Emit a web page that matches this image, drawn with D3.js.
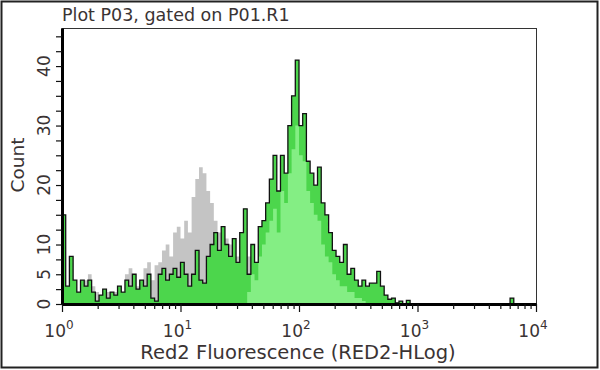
<!DOCTYPE html>
<html>
<head>
<meta charset="utf-8">
<script src="https://cdn.jsdelivr.net/npm/d3@7"></script>
<style>
  body { margin: 0; background: #fff; }
  text { font-family: "DejaVu Sans", Verdana, sans-serif; fill: #3a3333; }
</style>
</head>
<body>
<svg width="600" height="370"></svg>
<script>
// histogram channels, 32 per decade over 10^0 .. 10^4
var channels = 128, perDecade = 32;

// sample (gated) counts, drawn green with black outline
var sampleCounts = [
  15, 3, 8, 4, 2, 4, 3, 4, 2, 0.5,
  1.5, 2.5, 1, 2, 1.5, 3, 2, 4, 3, 5,
  2.5, 4, 3, 5, 1, 0.5, 5, 6, 4, 5,
  6, 4.5, 7, 5, 3, 5, 9, 4, 3.5, 8,
  10, 12, 9, 13, 10, 8, 11, 7, 12, 16,
  5, 10, 7, 13, 14, 17, 21, 25, 19, 25,
  22, 30, 35, 41, 30, 32, 24, 22, 20, 23,
  17, 15, 12, 9, 8, 7, 10, 5, 6, 4,
  3, 4, 3, 3.5, 3.5, 5.5, 3, 1.5, 0.8, 1,
  0.2, 0.5, 0, 0.6, 0, 0, 0, 0, 0, 0,
  0, 0, 0, 0, 0, 0, 0, 0, 0, 0,
  0, 0, 0, 0, 0, 0, 0, 0, 0, 0,
  0, 1, 0, 0, 0, 0, 0, 0
];

// control counts, drawn gray behind the sample
var controlCounts = [
  3, 2, 4, 3, 2, 3, 4, 5, 3, 2,
  1, 2, 2, 1.5, 2, 3, 2, 5, 6, 4,
  3, 4, 6, 7, 4, 6.5, 7, 9, 10, 8,
  12, 13, 11, 14, 12, 18, 21, 23, 22, 19,
  17, 14, 12, 12, 11, 10, 9, 8, 9, 10,
  8, 9, 7, 9, 10, 12, 14, 15, 12, 16,
  15, 20, 22, 25, 22, 20, 20, 16, 14, 12,
  8, 5, 7, 4, 5, 3, 2, 2, 1, 1,
  0.5, 0, 0, 0, 0, 0, 0, 0, 0, 0,
  0, 0, 0, 0, 0, 0, 0, 0, 0, 0,
  0, 0, 0, 0, 0, 0, 0, 0, 0, 0,
  0, 0, 0, 0, 0, 0, 0, 0, 0, 0,
  0, 0, 0, 0, 0, 0, 0, 0
];

// inner population, drawn light green inside the sample
var innerCounts = [
  0, 0, 0, 0, 0, 0, 0, 0, 0, 0,
  0, 0, 0, 0, 0, 0, 0, 0, 0, 0,
  0, 0, 0, 0, 0, 0, 0, 0, 0, 0,
  0, 0, 0, 0, 0, 0, 0, 0, 0, 0,
  0, 0, 0, 0, 0, 0, 0, 0, 0, 0,
  2, 5, 4, 8, 10, 12, 14, 16, 12, 19,
  17, 22, 26, 30, 25, 24, 19, 17, 15, 14,
  10, 8, 7, 5, 4, 3, 3, 2, 2, 1,
  1, 0.5, 0, 0, 0, 0, 0, 0, 0, 0,
  0, 0, 0, 0, 0, 0, 0, 0, 0, 0,
  0, 0, 0, 0, 0, 0, 0, 0, 0, 0,
  0, 0, 0, 0, 0, 0, 0, 0, 0, 0,
  0, 0, 0, 0, 0, 0, 0, 0
];

var xMajor = [1, 10, 100, 1000, 10000];
var yTickStep = 2.5;
var yLabels = [0, 5, 10, 20, 30, 40];
var title = "Plot P03, gated on P01.R1";
var xTitle = "Red2 Fluorescence (RED2-HLog)";
var yTitle = "Count";

var svg = d3.select("svg");

var plotLeft = 62, plotRight = 536, plotTop = 28, plotBottom = 304;

var x = d3.scaleLog().domain([1, 1e4]).range([plotLeft, plotRight]);
var y = d3.scaleLinear().domain([0, 46.4]).range([plotBottom, plotTop]);

// outer frame
svg.append("rect")
    .attr("x", 1.5).attr("y", 1.5).attr("width", 596).attr("height", 366)
    .attr("fill", "none").attr("stroke", "#222").attr("stroke-width", 2);

// plot box
svg.append("rect")
    .attr("x", plotLeft).attr("y", plotTop + 0.5)
    .attr("width", plotRight - plotLeft + 0.5).attr("height", plotBottom - plotTop)
    .attr("fill", "#fff").attr("stroke", "#333").attr("stroke-width", 1);

function toPoints(counts) {
  var pts = counts.map(function(c, i) { return [Math.pow(10, i / perDecade), c]; });
  pts.push([Math.pow(10, channels / perDecade), counts[counts.length - 1]]);
  return pts;
}

var area = d3.area()
    .curve(d3.curveStepAfter)
    .x(function(d) { return x(d[0]); })
    .y0(plotBottom)
    .y1(function(d) { return y(d[1]); });

var line = d3.line()
    .curve(d3.curveStepAfter)
    .x(function(d) { return x(d[0]); })
    .y(function(d) { return y(d[1]); });

var samplePts = toPoints(sampleCounts);

svg.append("clipPath").attr("id", "sampleClip")
  .append("path").attr("d", area(samplePts));

svg.append("path").attr("d", area(toPoints(controlCounts))).attr("fill", "#c4c4c4");
svg.append("path").attr("d", area(samplePts)).attr("fill", "#4cd64c");
svg.append("path").attr("d", area(toPoints(innerCounts))).attr("fill", "#84ee84")
    .attr("clip-path", "url(#sampleClip)");
svg.append("path").attr("d", line(samplePts))
    .attr("fill", "none").attr("stroke", "#111").attr("stroke-width", 1.3);

// x axis
var xTicks = [];
xMajor.forEach(function(p) {
  for (var k = 1; k <= 9; k++) if (p * k <= 1e4) xTicks.push(p * k);
});
var xAxis = svg.append("g")
    .attr("transform", "translate(0," + plotBottom + ")")
    .call(d3.axisBottom(x).tickValues(xTicks).tickFormat("").tickSizeOuter(0));
xAxis.select(".domain").attr("stroke", "#000").attr("stroke-width", 3);
xAxis.selectAll(".tick line")
    .attr("stroke", "#111").attr("stroke-width", 1.2)
    .attr("y2", function(d) { return xMajor.indexOf(d) >= 0 ? 8 : 5; });

var xLab = svg.append("g").selectAll("text").data(xMajor).enter().append("text")
    .attr("x", function(d) { return x(d) - 3; })
    .attr("y", 337)
    .attr("text-anchor", "middle")
    .attr("font-size", 17);
xLab.append("tspan").text("10");
xLab.append("tspan").attr("dy", -8).attr("font-size", 12)
    .text(function(d) { return Math.round(Math.log10(d)); });

// y axis
var yAxis = svg.append("g")
    .attr("transform", "translate(" + plotLeft + ",0)")
    .call(d3.axisLeft(y).tickValues(d3.range(0, 46, yTickStep)).tickFormat("").tickSizeOuter(0));
yAxis.select(".domain").attr("stroke", "#000").attr("stroke-width", 3);
yAxis.selectAll(".tick line").attr("stroke", "#111").attr("stroke-width", 1.2).attr("x2", -6);

svg.append("g").selectAll("text").data(yLabels).enter().append("text")
    .attr("transform", function(d) { return "translate(50," + y(d) + ") rotate(-90)"; })
    .attr("text-anchor", "middle")
    .attr("font-size", 17)
    .text(function(d) { return d; });

// titles
svg.append("text").attr("x", 62).attr("y", 21).attr("font-size", 17.5).text(title);
svg.append("text").attr("x", 298).attr("y", 359).attr("text-anchor", "middle")
    .attr("font-size", 19.5).text(xTitle);
svg.append("text").attr("transform", "translate(24,165) rotate(-90)")
    .attr("text-anchor", "middle").attr("font-size", 18.5).text(yTitle);
</script>
</body>
</html>
